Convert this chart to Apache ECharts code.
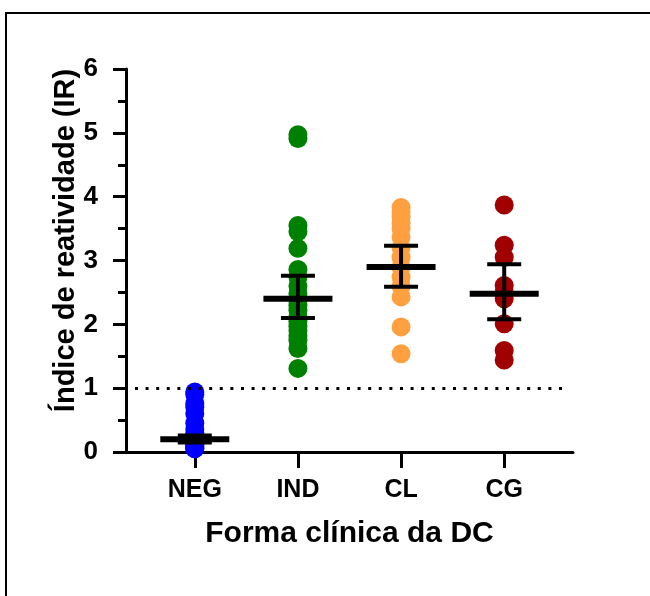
<!DOCTYPE html>
<html>
<head>
<meta charset="utf-8">
<script src="https://cdn.jsdelivr.net/npm/echarts@6/dist/echarts.min.js"></script>
<style>
html,body{margin:0;padding:0;background:#fff;}
#main{width:650px;height:596px;}
</style>
</head>
<body>
<div id="main"></div>
<script>
// dados
var groups = ['NEG', 'IND', 'CL', 'CG'];
var colors = ['#0000ff', '#008000', '#ffa040', '#a00000'];
var negVals = [0.94, 0.90, 0.76, 0.70, 0.60, 0.45, 0.36, 0.30, 0.24, 0.20, 0.17, 0.15, 0.12, 0.10, 0.08, 0.06, 0.05];
var indVals = [4.97, 4.91, 3.55, 3.45, 3.19, 2.86, 2.74, 2.60, 2.48, 2.38, 2.30, 2.22, 2.12, 2.05, 1.97, 1.90, 1.82, 1.75, 1.62, 1.31];
var clVals = [3.83, 3.76, 3.68, 3.58, 3.50, 3.37, 3.20, 3.05, 2.90, 2.74, 2.60, 2.43, 1.96, 1.54];
var cgVals = [3.87, 3.24, 3.05, 2.61, 2.50, 2.40, 2.01, 1.59, 1.44];
var means = [0.20, 2.40, 2.90, 2.48];
var errLow = [0.15, 2.10, 2.59, 2.08];
var errHigh = [0.26, 2.76, 3.23, 2.94];
var cutoff = 1;

var FONT = '"Liberation Sans", Arial, sans-serif';
var myChart = echarts.init(document.getElementById('main'));

var allVals = [negVals, indVals, clVals, cgVals];
var scatterSeries = allVals.map(function (vals, i) {
    return {
        name: groups[i],
        type: 'scatter',
        symbolSize: 19,
        itemStyle: {color: colors[i], opacity: 1},
        data: vals.map(function (v) { return [i + 1, v]; }),
        z: 2
    };
});

// linha de corte (pontilhada)
scatterSeries[0].markLine = {
    silent: true,
    symbol: 'none',
    label: {show: false},
    lineStyle: {color: '#000', width: 3, type: [3, 7.6]},
    data: [[{coord: [0.42, cutoff]}, {coord: [4.58, cutoff]}]]
};

var statData = groups.map(function (g, i) {
    return [i + 1, means[i], errLow[i], errHigh[i]];
});

function renderStat(params, api) {
    var x = api.value(0);
    var c = api.coord([x, api.value(1)]);
    var lo = api.coord([x, api.value(2)]);
    var hi = api.coord([x, api.value(3)]);
    var st = {stroke: '#000', lineWidth: 4};
    return {
        type: 'group',
        children: [
            {type: 'line', shape: {x1: lo[0], y1: lo[1], x2: hi[0], y2: hi[1]}, style: st},
            {type: 'line', shape: {x1: lo[0] - 17, y1: lo[1], x2: lo[0] + 17, y2: lo[1]}, style: st},
            {type: 'line', shape: {x1: hi[0] - 17, y1: hi[1], x2: hi[0] + 17, y2: hi[1]}, style: st},
            {type: 'line', shape: {x1: c[0] - 34.5, y1: c[1], x2: c[0] + 34.5, y2: c[1]}, style: {stroke: '#000', lineWidth: 6}}
        ]
    };
}

var option = {
    backgroundColor: '#fff',
    animation: false,
    grid: {left: 126, right: 77, top: 69, bottom: 144, containLabel: false, outerBoundsMode: 'none'},
    graphic: [{
        type: 'rect',
        shape: {x: 6, y: 13, width: 700, height: 700},
        style: {fill: 'none', stroke: '#000', lineWidth: 2},
        silent: true
    }],
    xAxis: {
        type: 'value',
        min: 0.333,
        max: 4.667,
        splitLine: {show: false},
        axisLine: {onZero: false, lineStyle: {color: '#000', width: 3}},
        axisTick: {customValues: [1, 2, 3, 4], length: 16, lineStyle: {color: '#000', width: 3}},
        axisLabel: {
            customValues: [1, 2, 3, 4],
            formatter: function (v) { return groups[Math.round(v) - 1]; },
            margin: 26, fontSize: 25, fontWeight: 'bold', color: '#000', fontFamily: FONT
        },
        name: 'Forma clínica da DC',
        nameLocation: 'middle',
        nameGap: 67,
        nameTextStyle: {fontSize: 30, fontWeight: 'bold', color: '#000', fontFamily: FONT}
    },
    yAxis: {
        type: 'value',
        min: 0,
        max: 6,
        interval: 1,
        splitLine: {show: false},
        axisLine: {show: true, lineStyle: {color: '#000', width: 3}},
        axisTick: {show: true, length: 13, lineStyle: {color: '#000', width: 3}},
        minorTick: {show: true, splitNumber: 2, length: 8, lineStyle: {color: '#000', width: 3}},
        axisLabel: {margin: 28, fontSize: 26, fontWeight: 'bold', color: '#000', fontFamily: FONT},
        name: 'Índice de reatividade (IR)',
        nameLocation: 'middle',
        nameGap: 46,
        nameMoveOverlap: false,
        nameTextStyle: {fontSize: 29, fontWeight: 'bold', color: '#000', fontFamily: FONT, padding: [0, 0, 0, 40]}
    },
    series: scatterSeries.concat([{
        type: 'custom',
        renderItem: renderStat,
        data: statData,
        z: 5,
        silent: true
    }])
};
myChart.setOption(option);
</script>
</body>
</html>
